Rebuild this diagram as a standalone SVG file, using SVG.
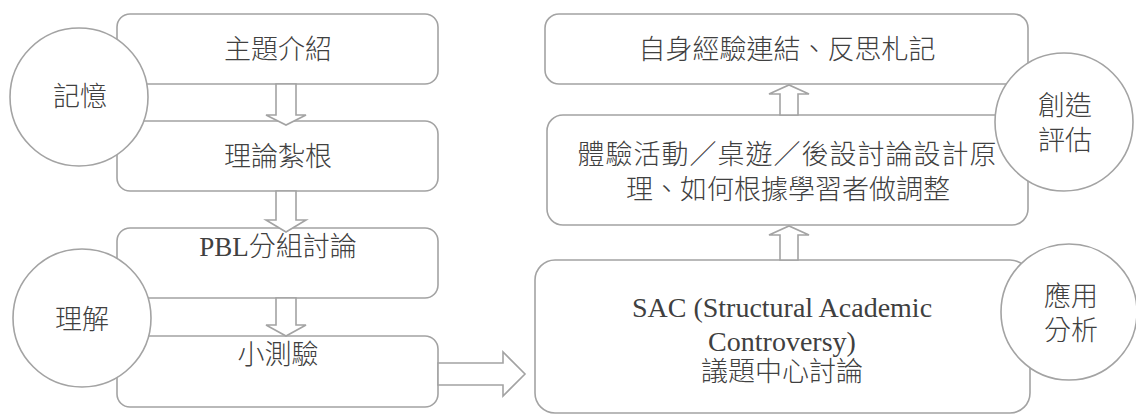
<svg xmlns="http://www.w3.org/2000/svg" width="1136" height="415" viewBox="0 0 1136 415">
<style>
.box{fill:#fff;stroke:#a3a3a3;stroke-width:1.6}
.circ{fill:#fff;stroke:#a3a3a3;stroke-width:1.6}
.arr{fill:#fff;stroke:#a3a3a3;stroke-width:1.6;stroke-linejoin:miter}
text{font-family:"Liberation Serif","Noto Sans CJK TC",serif;font-size:27px;font-weight:300;fill:#404040;text-anchor:middle;dominant-baseline:central}
.lat{font-size:28px;font-weight:400}
</style>
<rect width="1136" height="415" fill="#fff"/>
<g id="n1"><rect class="box" x="117" y="14" width="321" height="70" rx="13"/><text x="278" y="50">主題介紹</text></g>
<g id="n2"><rect class="box" x="117" y="121" width="321" height="70" rx="13"/><text x="278" y="157">理論紮根</text></g>
<g id="n3"><rect class="box" x="117" y="228" width="321" height="70" rx="13"/><text x="278" y="247">PBL分組討論</text></g>
<g id="n4"><rect class="box" x="117" y="336" width="321" height="71" rx="13"/><text x="278" y="355">小測驗</text></g>
<g id="n5"><rect class="box" x="545" y="14" width="483" height="70" rx="14"/><text x="787" y="50">自身經驗連結、反思札記</text></g>
<g id="n6"><rect class="box" x="547" y="115" width="481" height="110" rx="16"/><text x="787" y="155" textLength="419" lengthAdjust="spacing">體驗活動／桌遊／後設討論設計原</text><text x="788" y="190">理、如何根據學習者做調整</text></g>
<g id="n7"><rect class="box" x="535" y="260" width="495" height="153" rx="20"/><text class="lat" x="782" y="307">SAC (Structural Academic</text><text class="lat" x="782" y="341">Controversy)</text><text x="782" y="372">議題中心討論</text></g>
<g id="connectors">
<polygon class="arr" points="276,84 296,84 296,115 306,115 286,125 266,115 276,115"/>
<polygon class="arr" points="276,191 296,191 296,220 306,220 286,232 266,220 276,220"/>
<polygon class="arr" points="276,298 296,298 296,325 306,325 286,336 266,325 276,325"/>
<polygon class="arr" points="438,363 503,363 503,352 525,374 503,396 503,385 438,385"/>
<polygon class="arr" points="780,115 798,115 798,94 809,94 789,85 769,94 780,94"/>
<polygon class="arr" points="780,260 798,260 798,235 809,235 789,226 769,235 780,235"/>
</g>
<g id="c1"><circle class="circ" cx="79" cy="97" r="69"/><text x="80" y="97">記憶</text></g>
<g id="c2"><circle class="circ" cx="82" cy="318" r="69"/><text x="82" y="320">理解</text></g>
<g id="c3"><circle class="circ" cx="1064" cy="122" r="69"/><text x="1065" y="106">創造</text><text x="1065" y="141">評估</text></g>
<g id="c4"><circle class="circ" cx="1069" cy="312" r="68"/><text x="1071" y="297">應用</text><text x="1071" y="331">分析</text></g>
</svg>
